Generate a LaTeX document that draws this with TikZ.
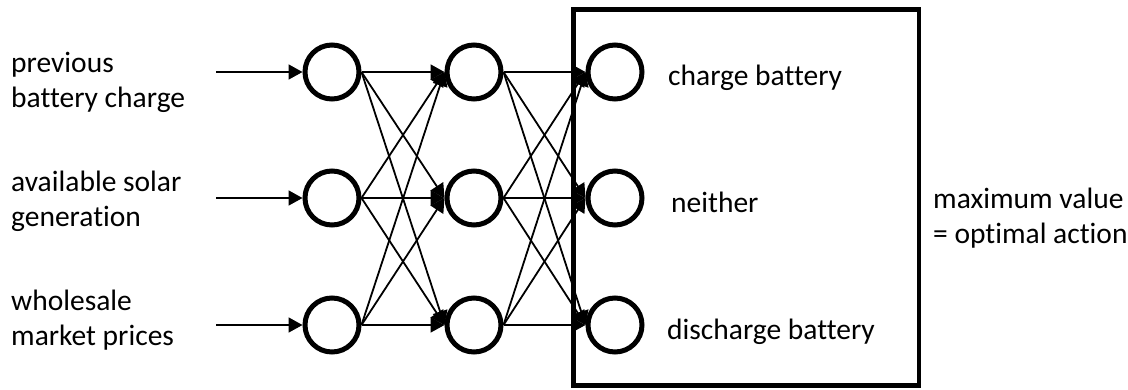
\documentclass[tikz,border=0pt]{standalone}
\usepackage{fontspec}
\setmainfont{Carlito}[Ligatures=NoCommon]
\usetikzlibrary{arrows.meta}
\begin{document}
\begin{tikzpicture}[x=1pt,y=-1pt,
  neuron/.style={circle, draw, line width=5pt, minimum size=54pt, inner sep=0pt},
  link/.style={line width=1.8pt, -{Triangle[length=14pt,width=15pt]}},
  lbl/.style={anchor=base west, inner sep=0pt, font=\fontsize{29.5}{35}\selectfont},
]
\useasboundingbox (0,0) rectangle (1128,389);

% output block
\draw[line width=4.5pt] (573.5,9.5) rectangle (919,385.5);

% three layers of neurons
\foreach \r/\y in {1/72,2/198,3/325} {
  \node[neuron] (a\r) at (332,\y) {};
  \node[neuron] (b\r) at (474,\y) {};
  \node[neuron] (c\r) at (615,\y) {};
  \coordinate (in\r) at (216,\y);
}

% inputs
\foreach \r in {1,2,3} \draw[link] (in\r) -- (a\r.west);

% fully connected layers
\foreach \i in {1,2,3} {
  \foreach \j in {1,2,3} {
    \draw[link] (a\i.east) -- (b\j.west);
    \draw[link] (b\i.east) -- (c\j.west);
  }
}

% input labels
\node[lbl] (t1a) at (11,72) {previous};
\node[lbl] (t1b) at (11,107) {battery charge};
\node[lbl] (t2a) at (11,191) {available solar};
\node[lbl] (t2b) at (11,226) {generation};
\node[lbl] (t3a) at (11,310) {wholesale};
\node[lbl] (t3b) at (11,345) {market prices};

% output labels
\node[lbl] (o1) at (668,85) {charge battery};
\node[lbl] (o2) at (671,212) {neither};
\node[lbl] (o3) at (667,339) {discharge battery};

\node[lbl] (m1) at (933,208) {maximum value};
\node[lbl] (m2) at (933,243) {= optimal action};
\end{tikzpicture}
\end{document}
